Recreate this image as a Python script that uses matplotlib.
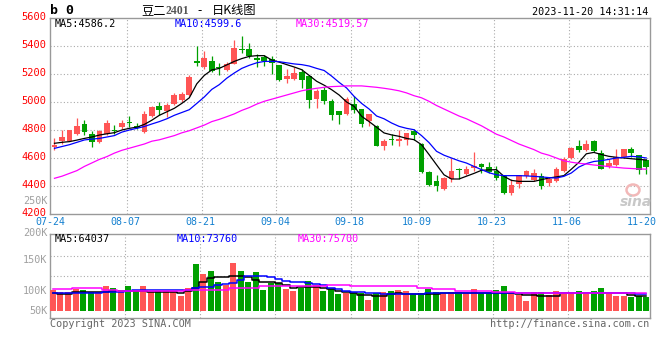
import matplotlib
matplotlib.use("Agg")
import matplotlib.pyplot as plt
from matplotlib.patches import Ellipse
from matplotlib.transforms import ScaledTranslation
import numpy as np

# ---------------- data ----------------
date_labels = ['07-24', '08-07', '08-21', '09-04', '09-18', '10-09', '10-23', '11-06', '11-20']
date_idx = [0, 10, 20, 30, 40, 49, 59, 69, 79]

opens = [4676, 4719, 4724, 4771, 4845, 4771, 4712, 4771, 4802, 4819,
         4855, 4826, 4786, 4898, 4971, 4933, 4986, 5012, 5048, 5293,
         5250, 5290, 5250, 5226, 5274, 5381, 5376, 5314, 5319, 5310,
         5262, 5162, 5167, 5214, 5183, 5024, 5088, 5005, 4933, 4917,
         4985, 4950, 4862, 4831, 4683, 4738, 4719, 4731, 4790, 4702,
         4498, 4433, 4376, 4448, 4524, 4486, 4529, 4557, 4538, 4505,
         4469, 4350, 4417, 4471, 4440, 4469, 4421, 4436, 4505, 4600,
         4683, 4655, 4719, 4638, 4540, 4548, 4607, 4667, 4619, 4583]
closes = [4695, 4748, 4798, 4829, 4786, 4714, 4795, 4852, 4790, 4852,
          4850, 4817, 4917, 4964, 4940, 4976, 5048, 5055, 5179, 5279,
          5314, 5221, 5240, 5274, 5388, 5369, 5329, 5298, 5293, 5279,
          5155, 5183, 5207, 5155, 5012, 5079, 5005, 4905, 4905, 5019,
          4945, 4845, 4914, 4688, 4724, 4731, 4736, 4779, 4767, 4500,
          4405, 4398, 4460, 4505, 4514, 4519, 4545, 4533, 4500, 4455,
          4350, 4410, 4476, 4505, 4493, 4400, 4452, 4524, 4590, 4671,
          4655, 4698, 4648, 4524, 4564, 4607, 4662, 4638, 4512, 4536]
highs = [4743, 4798, 4802, 4888, 4869, 4790, 4800, 4869, 4838, 4871,
         4900, 4852, 4933, 4969, 5000, 4993, 5064, 5071, 5190, 5398,
         5364, 5326, 5279, 5286, 5440, 5469, 5424, 5340, 5333, 5326,
         5267, 5238, 5250, 5238, 5195, 5095, 5107, 5024, 4936, 5036,
         5040, 4952, 4917, 4833, 4736, 4774, 4802, 4781, 4807, 4707,
         4505, 4481, 4465, 4598, 4529, 4540, 4640, 4562, 4570, 4540,
         4472, 4452, 4479, 4512, 4524, 4493, 4464, 4536, 4607, 4679,
         4726, 4731, 4726, 4655, 4590, 4667, 4667, 4676, 4624, 4590]
lows = [4659, 4700, 4719, 4762, 4762, 4679, 4707, 4767, 4774, 4810,
        4821, 4805, 4781, 4891, 4910, 4893, 4976, 5000, 5043, 5255,
        5238, 5214, 5195, 5221, 5269, 5352, 5317, 5250, 5257, 5198,
        5150, 5136, 5160, 5102, 4957, 4957, 4988, 4869, 4845, 4905,
        4921, 4819, 4826, 4683, 4660, 4695, 4688, 4695, 4731, 4493,
        4398, 4367, 4374, 4429, 4452, 4476, 4510, 4495, 4490, 4440,
        4345, 4338, 4386, 4457, 4433, 4376, 4400, 4429, 4500, 4590,
        4643, 4650, 4643, 4519, 4529, 4540, 4602, 4607, 4488, 4488]

ma5 = [4705, 4712, 4717, 4728, 4740, 4750, 4764, 4773, 4781, 4800,
       4812, 4820, 4840, 4870, 4905, 4930, 4955, 4990, 5030, 5130,
       5190, 5229, 5240, 5265, 5290, 5310, 5326, 5331, 5331, 5300,
       5285, 5267, 5250, 5231, 5190, 5148, 5120, 5088, 5050, 5000,
       4969, 4898, 4860, 4820, 4779, 4765, 4755, 4740, 4731, 4695,
       4625, 4552, 4480, 4450, 4450, 4470, 4490, 4512, 4515, 4517,
       4469, 4440, 4433, 4433, 4433, 4445, 4457, 4465, 4474, 4520,
       4569, 4630, 4640, 4625, 4612, 4605, 4600, 4595, 4590, 4586]
ma10 = [4669, 4682, 4695, 4712, 4729, 4735, 4740, 4750, 4760, 4785,
        4800, 4812, 4825, 4843, 4860, 4880, 4905, 4925, 4945, 4990,
        5036, 5090, 5124, 5170, 5207, 5240, 5262, 5280, 5290, 5290,
        5288, 5280, 5272, 5267, 5257, 5240, 5225, 5185, 5140, 5100,
        5040, 4990, 4950, 4900, 4880, 4850, 4826, 4812, 4802, 4760,
        4710, 4648, 4620, 4600, 4580, 4564, 4540, 4517, 4495, 4480,
        4474, 4474, 4474, 4472, 4469, 4465, 4460, 4457, 4469, 4493,
        4535, 4560, 4575, 4581, 4590, 4600, 4605, 4612, 4608, 4600]
ma30 = [4455, 4470, 4490, 4510, 4540, 4565, 4590, 4610, 4635, 4655,
        4670, 4685, 4700, 4720, 4730, 4745, 4760, 4780, 4795, 4815,
        4835, 4860, 4876, 4895, 4915, 4940, 4960, 4985, 5005, 5020,
        5035, 5050, 5065, 5080, 5090, 5098, 5105, 5110, 5112, 5115,
        5115, 5115, 5110, 5105, 5098, 5090, 5080, 5065, 5045, 5030,
        5005, 4975, 4950, 4925, 4900, 4880, 4855, 4830, 4800, 4770,
        4750, 4725, 4700, 4680, 4660, 4635, 4620, 4600, 4580, 4570,
        4562, 4557, 4550, 4545, 4538, 4533, 4528, 4525, 4522, 4520]

# volume in thousands of lots
volume = [90, 82, 80, 95, 90, 80, 80, 109, 99, 86,
          109, 87, 109, 82, 85, 87, 87, 66, 99, 202,
          159, 172, 126, 112, 208, 172, 126, 169, 90, 122,
          119, 95, 86, 98, 130, 112, 86, 96, 73, 79,
          76, 76, 47, 79, 82, 86, 90, 86, 72, 79,
          95, 82, 76, 82, 82, 76, 95, 76, 76, 90,
          109, 76, 69, 43, 82, 82, 69, 86, 82, 82,
          86, 82, 86, 99, 76, 66, 66, 62, 65, 61]
vma5 = [76, 73, 73, 80, 80, 80, 80, 83, 85, 87,
        87, 87, 87, 83, 83, 83, 83, 76, 85, 97,
        126, 140, 148, 148, 151, 151, 145, 135, 123, 123,
        119, 110, 97, 102, 102, 102, 100, 93, 85, 80,
        76, 69, 67, 65, 65, 72, 79, 73, 73, 73,
        73, 73, 76, 76, 76, 78, 79, 79, 79, 79,
        79, 76, 73, 70, 67, 65, 65, 65, 76, 76,
        76, 76, 76, 76, 76, 76, 78, 70, 65, 64]
vma10 = [79, 79, 79, 79, 79, 79, 79, 81, 83, 83,
         86, 90, 90, 90, 90, 90, 90, 90, 92, 97,
         102, 105, 110, 115, 119, 135, 151, 151, 151, 145,
         139, 130, 126, 126, 120, 115, 112, 97, 93, 85,
         83, 81, 79, 77, 75, 73, 73, 73, 73, 75,
         76, 76, 77, 78, 79, 79, 79, 79, 79, 79,
         78, 77, 76, 76, 76, 76, 76, 77, 79, 79,
         79, 79, 79, 79, 79, 78, 76, 76, 74, 74]
vma30 = [95, 95, 95, 101, 101, 101, 98, 92, 92, 87,
         87, 87, 87, 87, 87, 87, 87, 87, 90, 90,
         90, 90, 90, 90, 100, 100, 100, 100, 107, 107,
         107, 107, 107, 107, 107, 107, 107, 112, 112, 112,
         107, 107, 107, 107, 107, 107, 107, 107, 107, 100,
         100, 93, 93, 93, 85, 85, 85, 85, 85, 82,
         82, 82, 76, 76, 76, 76, 76, 76, 76, 76,
         76, 76, 76, 76, 76, 76, 76, 76, 76, 76]

price_ticks = [4200, 4400, 4600, 4800, 5000, 5200, 5400, 5600]
vol_grid = [152, 238]
vol_labels = ['250K', '200K', '150K', '100K', '50K']

header_left = 'b 0'
title_parts = ['豆二', '2401', '-', '日K线图']
stamp = '2023-11-20 14:31:14'
ma_text = ['MA5:4586.2', 'MA10:4599.6', 'MA30:4519.57']
vma_text = ['MA5:64037', 'MA10:73760', 'MA30:75700']
copyright_text = 'Copyright 2023 SINA.COM'
url_text = 'http://finance.sina.com.cn'

# ---------------- styling ----------------
W, H = 660, 360
UP = '#ff5555'
DN = '#00a000'
GRID = '#aaaaaa'
FRAME = '#999999'
MONO = 'DejaVu Sans Mono'
CJK = ['Noto Sans CJK SC', 'DejaVu Sans']
MA_COLORS = ['#000000', '#0000ff', '#ff00ff']

fig = plt.figure(figsize=(W / 100, H / 100), dpi=100)
fig.patch.set_facecolor('white')


def fx(x):
    return x / W


def fy(y):
    return 1 - y / H


L, R = 50.2, 650.0
ax = fig.add_axes([fx(L), fy(214), (R - L) / W, 196 / H])
axv = fig.add_axes([fx(L), fy(318), (R - L) / W, 84 / H])

n = len(closes)
idx = np.arange(n)
cols = [UP if c >= o else DN for o, c in zip(opens, closes)]
grid_off = -0.37
xlim = (grid_off, n - 0.5)

# ---- candles ----
bottoms = [min(o, c) for o, c in zip(opens, closes)]
heights = [max(abs(c - o), 6) for o, c in zip(opens, closes)]
ax.vlines(idx, lows, highs, colors=cols, lw=0.9, zorder=3)
ax.bar(idx, heights, bottom=bottoms, width=0.76, color=cols, lw=0, zorder=4)
for series, col in zip([ma5, ma10, ma30], MA_COLORS):
    ax.plot(idx, series, color=col, lw=0.9, zorder=5)

ax.set_xlim(*xlim)
ax.set_ylim(price_ticks[0], price_ticks[-1])
gx = [d + grid_off for d in date_idx]
for g in gx[1:-1]:
    ax.axvline(g, color=GRID, lw=0.8, ls=(0, (1, 2)), zorder=1)
for p in price_ticks[1:-1]:
    ax.axhline(p, color=GRID, lw=0.8, ls=(0, (1, 2)), zorder=1)
ax.set_yticks(price_ticks)
ax.set_yticklabels([str(p) for p in price_ticks], color='#ff0000',
                   fontsize=7.5, family=MONO)
ax.set_xticks([d + grid_off - 0.2 for d in date_idx])
ax.set_xticklabels(date_labels, color='#1480d0', fontsize=7.2, family=MONO)
ax.tick_params(length=0, pad=2.4)
ax.tick_params(axis='y', pad=2.5)
up_shift = ScaledTranslation(0, 1.5 / 100, fig.dpi_scale_trans)
for lab in ax.get_yticklabels():
    lab.set_transform(lab.get_transform() + up_shift)
for s in ax.spines.values():
    s.set_color(FRAME)
    s.set_linewidth(1)

# ---- volume ----
axv.bar(idx, volume, width=0.8, color=cols, lw=0, zorder=3)
for series, col in zip([vma5, vma10, vma30], MA_COLORS):
    axv.plot(idx, series, color=col, lw=1.1, drawstyle='steps-mid', zorder=4)
axv.set_xlim(*xlim)
axv.set_ylim(-30, 331)
for g in gx[1:-1]:
    axv.axvline(g, color=GRID, lw=0.8, ls=(0, (1, 2)), zorder=1)
for v in vol_grid:
    axv.axhline(v, color=GRID, lw=0.8, ls=(0, (1, 2)), zorder=1)
axv.set_xticks([])
axv.set_yticks([])
for s in axv.spines.values():
    s.set_color(FRAME)
    s.set_linewidth(1)

# volume axis labels (placed as the source chart draws them)
for lab, ypx in zip(vol_labels, [200.5, 232.5, 260, 291, 311]):
    fig.text(fx(47.5), fy(ypx), lab, ha='right', va='center', color='#a0a0a0',
             fontsize=7.3, family=MONO)

# ---- texts ----
fig.text(fx(50), fy(10.5), header_left, ha='left', va='center', fontsize=9.5,
         fontweight='bold', family=MONO, color='#000000')
fig.text(fx(141), fy(10.5), title_parts[0], ha='left', va='center', fontsize=8.8,
         family=CJK, color='#000000')
fig.text(fx(165), fy(10.5), title_parts[1], ha='left', va='center', fontsize=8.5,
         family='Liberation Serif', fontweight='bold', color='#555555')
fig.text(fx(197), fy(10.5), title_parts[2], ha='left', va='center', fontsize=8.8,
         family=CJK, color='#000000')
fig.text(fx(212), fy(10.5), title_parts[3], ha='left', va='center', fontsize=8.8,
         family=CJK, color='#000000')
fig.text(fx(648), fy(12), stamp, ha='right', va='center', fontsize=7.3,
         family=MONO, color='#000000')
for t, x, col in zip(ma_text, [55, 175, 296], MA_COLORS):
    fig.text(fx(x), fy(24), t, ha='left', va='center', fontsize=7.3,
             family=MONO, color=col)
for t, x, col in zip(vma_text, [55, 177, 298], MA_COLORS):
    fig.text(fx(x), fy(239), t, ha='left', va='center', fontsize=7.3,
             family=MONO, color=col)
fig.text(fx(50), fy(324), copyright_text, ha='left', va='center', fontsize=7.3,
         family=MONO, color='#666666')
fig.text(fx(649), fy(324), url_text, ha='right', va='center', fontsize=7.3,
         family=MONO, color='#666666')

# sina watermark
fig.add_artist(Ellipse((fx(633), fy(190)), 13 / W, 11 / H, transform=fig.transFigure,
                       facecolor='none', edgecolor='#f2b8b8', lw=1.8, zorder=2))
fig.text(fx(636), fy(202), 'sina', ha='center', va='center', fontsize=10,
         fontweight='bold', style='italic', color='#c8c8c8', zorder=2)

fig.savefig('out.png', dpi=100, facecolor='white')
